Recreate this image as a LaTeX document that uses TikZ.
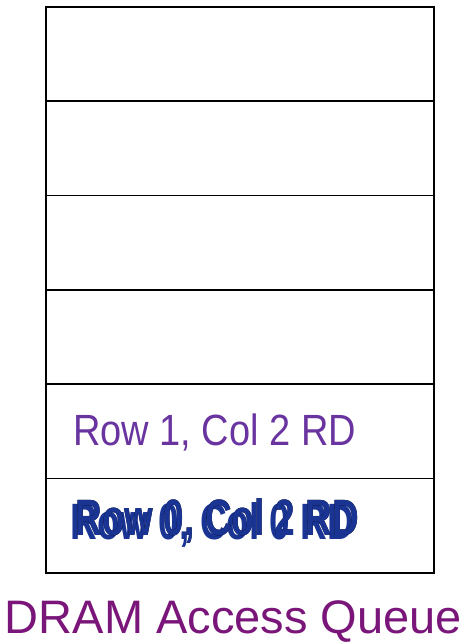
\documentclass[tikz,border=0pt]{standalone}
\usepackage{fontspec}
\setmainfont{Liberation Sans}
\usepackage{pdfrender}
\definecolor{rowpurple}{RGB}{106,52,160}
\definecolor{titlepurple}{RGB}{122,22,122}
\definecolor{rowblue}{RGB}{26,52,148}
\newcommand{\rowtext}[1]{\scalebox{1}[1.38]{\fontsize{37}{37}\selectfont\bfseries #1}}
\begin{document}
\begin{tikzpicture}[x=1pt,y=-1pt,
  slot/.style={draw=black,line width=1.6pt,minimum width=388pt,minimum height=94.3pt,anchor=north west,inner sep=0pt,outer sep=0pt},
  txt/.style={anchor=base west,inner sep=0pt,outer sep=0pt}]
\useasboundingbox (0,0) rectangle (472,644);
\fill[white] (0,0) rectangle (472,644);
\node[slot] (s5) at (46,7) {};
\node[slot] (s4) at (46,101.3) {};
\node[slot] (s3) at (46,195.6) {};
\node[slot] (s2) at (46,289.9) {};
\node[slot] (s1) at (46,384.2) {};
\node[slot] (s0) at (46,478.5) {};
\node[txt,text=rowpurple] (r1) at (73,445) {\scalebox{1}[1.15]{\fontsize{38}{38}\selectfont Row 1, Col 2 RD}};
\node[txt,text=rowblue] (r0a) at (70.5,539) {\rowtext{Row 0, Col 0 RD}};
\node[txt] (r0w) at (75.5,535) {\rowtext{\textpdfrender{TextRenderingMode=1,LineWidth=2.2,StrokeColor=white}{Row 0, Col 2 RD}}};
\node[txt,text=rowblue] (r0b) at (75.5,535) {\rowtext{Row 0, Col 2 RD}};
\node[anchor=base,inner sep=0pt,text=titlepurple] (title) at (233.5,633) {\fontsize{47}{47}\selectfont DRAM Access Queue};
\end{tikzpicture}
\end{document}
